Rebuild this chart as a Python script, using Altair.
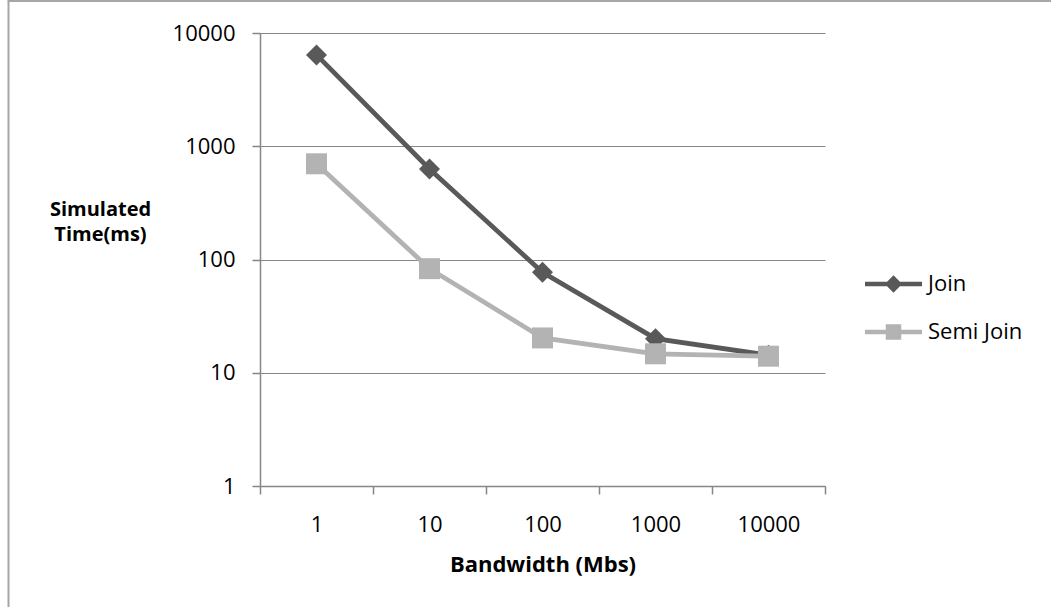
import altair as alt
import pandas as pd

# Bandwidth categories (Mbs) and simulated times (ms) for each strategy
bandwidth = [1, 10, 100, 1000, 10000]
join_ms = [6400, 630, 77, 20, 14.3]
semi_join_ms = [700, 83, 20.3, 14.7, 14]

series_names = ["Join", "Semi Join"]
series_colors = ["#595959", "#b3b3b3"]
series_shapes = ["diamond", "square"]
y_ticks = [1, 10, 100, 1000, 10000]

rows = []
for name, values in zip(series_names, [join_ms, semi_join_ms]):
    for bw, v in zip(bandwidth, values):
        rows.append({"series": name, "bandwidth": bw, "time": v})
df = pd.DataFrame(rows)

# Category edges on the log axis: half a decade either side of each bandwidth
half = 10 ** 0.5
x_edges = [b / half for b in bandwidth] + [bandwidth[-1] * half]
x_domain = [x_edges[0], x_edges[-1]]

FONT = "Open Sans"
W, H = 565, 453
GRID = "#868686"

x_enc = alt.X(
    "bandwidth:Q",
    scale=alt.Scale(type="log", domain=x_domain, nice=False),
    axis=alt.Axis(
        values=x_edges,
        labelExpr="datum.value > 20000 ? '' : format(datum.value * sqrt(10), '.0f')",
        labelOffset=W / len(bandwidth) / 2,
        labelFlush=False,
        labelOverlap=False,
        labelBaseline="alphabetic",
        labelPadding=37.5,
        labelFont=FONT,
        labelFontSize=22,
        labelColor="#000000",
        grid=False,
        domainColor=GRID,
        domainWidth=1.5,
        tickColor=GRID,
        tickWidth=1.5,
        tickSize=8,
        title="Bandwidth (Mbs)",
        titleFont=FONT,
        titleFontSize=22,
        titleFontWeight="bold",
        titleColor="#000000",
        titleBaseline="alphabetic",
        titleY=85,
    ),
)

y_enc = alt.Y(
    "time:Q",
    scale=alt.Scale(type="log", domain=[1, 10000], nice=False),
    axis=alt.Axis(
        values=y_ticks,
        format="d",
        labelFont=FONT,
        labelFontSize=22,
        labelColor="#000000",
        labelBaseline="middle",
        labelPadding=17,
        grid=True,
        gridColor=GRID,
        gridWidth=1.2,
        domainColor=GRID,
        domainWidth=1.5,
        tickColor=GRID,
        tickWidth=1.5,
        tickSize=8,
        title=["Simulated", "Time(ms)"],
        titleAngle=0,
        titleAlign="center",
        titleBaseline="alphabetic",
        titleX=-160,
        titleY=182.5,
        titleLineHeight=25,
        titleFont=FONT,
        titleFontSize=20,
        titleFontWeight="bold",
        titleColor="#000000",
    ),
)

layers = []
for name, color, shape in zip(series_names, series_colors, series_shapes):
    base = alt.Chart(df).transform_filter(alt.datum.series == name)
    layers.append(base.mark_line(color=color, strokeWidth=4.75).encode(x=x_enc, y=y_enc))
    layers.append(
        base.mark_point(filled=True, color=color, shape=shape, size=440, opacity=1).encode(
            x=x_enc, y=y_enc
        )
    )

# Legend entries: a line segment with the series marker in the middle
legend_paths = [
    "M-28.5,0L28.5,0M-5.5,0L0,-5.5L5.5,0L0,5.5Z",
    "M-28.5,0L28.5,0M-5.5,-5.5L5.5,-5.5L5.5,5.5L-5.5,5.5Z",
]
legend_def = alt.Legend(
    title=None,
    orient="none",
    legendX=622.5,
    legendY=240,
    padding=0,
    symbolSize=4,
    symbolStrokeWidth=4.5,
    symbolOpacity=1,
    labelOffset=23.5,
    labelFont=FONT,
    labelFontSize=22,
    labelColor="#000000",
    rowPadding=18,
)
legend_layer = (
    alt.Chart(df)
    .transform_filter("false")
    .mark_point(filled=True, size=4, strokeWidth=4.5, opacity=1)
    .encode(
        fill=alt.Fill("series:N", scale=alt.Scale(domain=series_names, range=series_colors), legend=legend_def),
        stroke=alt.Stroke("series:N", scale=alt.Scale(domain=series_names, range=series_colors), legend=legend_def),
        shape=alt.Shape("series:N", scale=alt.Scale(domain=series_names, range=legend_paths), legend=legend_def),
    )
)

# Outer chart-area frame (left and top edges)
frame_df = pd.DataFrame({"edge": [0]})
frame_left = alt.Chart(frame_df).mark_rule(color="#a6a6a6", strokeWidth=2).encode(
    x=alt.value(-251.5), y=alt.value(-32), y2=alt.value(607 - 33)
)
frame_top = alt.Chart(frame_df).mark_rule(color="#a6a6a6", strokeWidth=2).encode(
    x=alt.value(-252.5), x2=alt.value(1051 - 260), y=alt.value(-32)
)

chart = (
    alt.layer(frame_left, frame_top, *layers, legend_layer)
    .properties(
        width=W,
        height=H,
        padding={"left": 260, "top": 33, "right": 1051 - 260 - W, "bottom": 607 - 33 - H},
        autosize=alt.AutoSizeParams(type="none"),
        background="#ffffff",
    )
    .configure_view(stroke="transparent")
)

chart.save("out.html", embed_options={"renderer": "svg", "actions": False})
